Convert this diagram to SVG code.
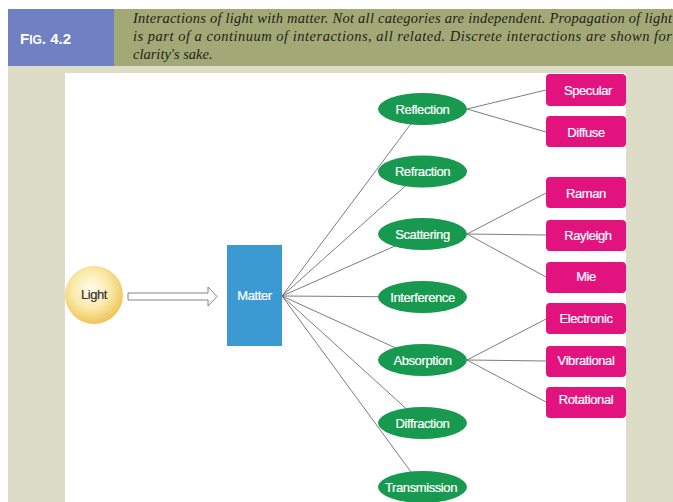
<svg xmlns="http://www.w3.org/2000/svg" width="673" height="502" viewBox="0 0 673 502">
<defs>
<radialGradient id="sun" cx="0.45" cy="0.4" r="0.6">
<stop offset="0" stop-color="#fffdf0"/>
<stop offset="0.55" stop-color="#fbe9a8"/>
<stop offset="1" stop-color="#eec559"/>
</radialGradient>
<style>
.cap{font-family:"Liberation Serif","Times New Roman",serif;font-style:italic;font-size:14.5px;fill:#1f1f16}
.lbl{font-family:"Liberation Sans",Arial,sans-serif;font-size:13px;fill:#fff;text-anchor:middle;letter-spacing:-0.4px;stroke:#fff;stroke-width:0.2}
.ell{fill:#17994f}
.box{fill:#e2137f}
.ln{stroke:#6e6e6e;stroke-width:0.9;fill:none}
</style>
</defs>
<rect x="0" y="0" width="673" height="502" fill="#ffffff"/>
<rect x="8" y="66" width="665" height="436" fill="#dcdcc7"/>
<rect x="8" y="9" width="106" height="57" fill="#6f80c3"/>
<rect x="114" y="9" width="559" height="57" fill="#a2a977"/>
<text x="20" y="44" font-family="'Liberation Sans',Arial,sans-serif" font-size="15" font-weight="bold" fill="#ffffff">F<tspan font-size="12">IG</tspan>. 4.2</text>
<text class="cap" x="133" y="23" textLength="539" lengthAdjust="spacing">Interactions of light with matter. Not all categories are independent. Propagation of light</text>
<text class="cap" x="133" y="41" textLength="539" lengthAdjust="spacing">is part of a continuum of interactions, all related. Discrete interactions are shown for</text>
<text class="cap" x="133" y="59">clarity's sake.</text>
<rect x="65" y="73" width="561" height="429" fill="#ffffff"/>
<g id="connectors">
<path class="ln" d="M282 296L422 109M282 296L422 171M282 296L422 234M282 296L422 297M282 296L422 360M282 296L422 423M282 296L422 487"/>
<path class="ln" d="M467 109L546 90M467 109L546 132M467 234L546 193M467 234L546 235M467 234L546 277M467 360L546 319M467 360L546 361M467 360L546 402"/>
<path d="M128 293H208V287L217 296.5L208 306V300H128Z" fill="#ffffff" stroke="#777" stroke-width="0.9"/>
</g>
<g id="light"><circle cx="94" cy="295" r="29" fill="url(#sun)"/><text class="lbl" x="94" y="299" style="fill:#333;stroke:#333">Light</text></g>
<g id="matter"><rect x="227" y="245" width="55" height="101" fill="#3b9ad1"/><text class="lbl" x="254.5" y="300">Matter</text></g>
<g id="reflection"><ellipse class="ell" cx="422.5" cy="109" rx="44.5" ry="16"/><text class="lbl" x="422.5" y="113.5">Reflection</text></g>
<g id="refraction"><ellipse class="ell" cx="422.5" cy="171.5" rx="44.5" ry="16"/><text class="lbl" x="422.5" y="176">Refraction</text></g>
<g id="scattering"><ellipse class="ell" cx="422.5" cy="234" rx="44.5" ry="16"/><text class="lbl" x="422.5" y="238.5">Scattering</text></g>
<g id="interference"><ellipse class="ell" cx="422.5" cy="297" rx="44.5" ry="16"/><text class="lbl" x="422.5" y="301.5">Interference</text></g>
<g id="absorption"><ellipse class="ell" cx="422.5" cy="360" rx="44.5" ry="16"/><text class="lbl" x="422.5" y="364.5">Absorption</text></g>
<g id="diffraction"><ellipse class="ell" cx="422.5" cy="423" rx="44.5" ry="16"/><text class="lbl" x="422.5" y="427.5">Diffraction</text></g>
<g id="transmission"><ellipse class="ell" cx="422.5" cy="487" rx="44.5" ry="16"/><text class="lbl" x="421" y="491.5">Transmission</text></g>
<g id="specular"><rect class="box" x="546" y="74" width="80" height="32" rx="4"/><text class="lbl" x="588" y="94.5">Specular</text></g>
<g id="diffuse"><rect class="box" x="546" y="116" width="80" height="31" rx="4"/><text class="lbl" x="586" y="136.5">Diffuse</text></g>
<g id="raman"><rect class="box" x="546" y="177" width="80" height="31" rx="4"/><text class="lbl" x="586" y="197.5">Raman</text></g>
<g id="rayleigh"><rect class="box" x="546" y="220" width="80" height="31" rx="4"/><text class="lbl" x="588" y="240">Rayleigh</text></g>
<g id="mie"><rect class="box" x="546" y="262" width="80" height="31" rx="4"/><text class="lbl" x="586" y="281">Mie</text></g>
<g id="electronic"><rect class="box" x="546" y="303" width="80" height="31" rx="4"/><text class="lbl" x="586" y="322.5">Electronic</text></g>
<g id="vibrational"><rect class="box" x="546" y="346" width="80" height="31" rx="4"/><text class="lbl" x="586" y="364.5">Vibrational</text></g>
<g id="rotational"><rect class="box" x="546" y="387" width="80" height="31" rx="4"/><text class="lbl" x="586" y="403.5">Rotational</text></g>
</svg>
